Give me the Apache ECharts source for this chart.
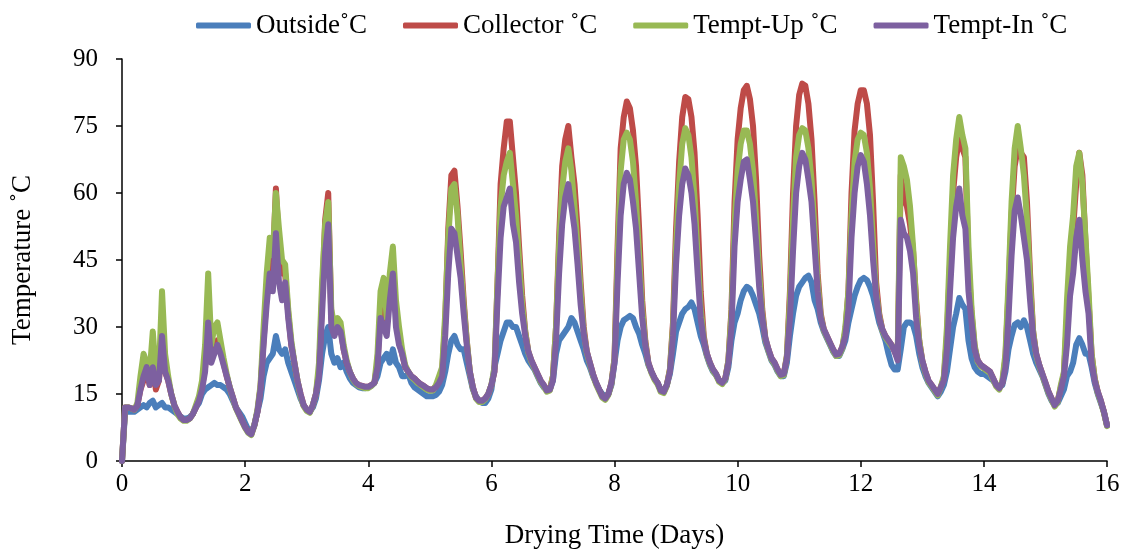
<!DOCTYPE html>
<html>
<head>
<meta charset="utf-8">
<script src="https://cdn.jsdelivr.net/npm/echarts@6/dist/echarts.min.js"></script>
<style>
html,body{margin:0;padding:0;background:#fff;}
#chart{width:1126px;height:549px;}
</style>
</head>
<body>
<div id="chart"></div>
<script>
// Sampling grid: one reading every 0.05 day, from day 0 to day 16
const STEP_DAYS = 0.05;
const X_TICKS = [0, 2, 4, 6, 8, 10, 12, 14, 16];
const Y_TICKS = [0, 15, 30, 45, 60, 75, 90];
const SERIES_NAMES = ['Outside˚C', 'Collector ˚C', 'Tempt-Up ˚C', 'Tempt-In ˚C'];

// Outside ˚C (rows = days 0..15, 20 readings per day, then day 16)
const outside = [
0, 11, 11, 11, 11, 11.5, 12, 12.5, 12, 13, 13.5, 12, 12.5, 13, 12, 12, 11.5, 11, 10.5, 10,
9.5, 9.5, 9.8, 10.5, 12, 13, 15, 16, 16.5, 17, 17.5, 17, 17, 16.5, 16, 15, 13.5, 12, 11, 10,
8.5, 7, 6.5, 8, 11, 14, 19, 22, 23, 24, 28, 25, 24, 25, 22, 20, 18, 16, 14, 12.5,
11.5, 11, 12, 14, 18, 24, 28, 30, 24, 22, 23, 21, 22, 20, 18.5, 17.5, 17, 16.5, 16.3, 16.3,
16.5, 16.8, 17.5, 19, 22, 23, 24, 22, 25, 22, 21, 19, 19, 19.5, 17.5, 16.5, 16, 15.5, 15, 14.5,
14.5, 14.5, 14.8, 15.5, 17, 20, 24, 27, 28, 26, 25, 25, 22, 19, 16, 14.5, 13.5, 13, 13, 14,
16, 21, 24, 27, 29, 31, 31, 30, 30, 28, 26, 24, 22.5, 21.5, 20.5, 19, 17.5, 16.5, 16, 16,
18, 24, 27, 28, 29, 30, 32, 31, 29, 27, 25, 22.5, 21, 19, 17.5, 16, 15, 14.5, 15, 17,
22, 27, 30, 31.5, 32, 32.5, 32, 30, 28.5, 26, 24, 21.5, 20, 18.5, 17.5, 16, 15.5, 17, 19.5, 24,
29, 31, 33, 34, 34.5, 35.5, 34, 31, 28, 26, 23.5, 21.5, 20, 19.2, 18, 17.5, 18, 21, 27, 31,
33, 36, 38, 39, 38.5, 37, 35, 33, 30, 26.5, 24.5, 22.5, 21.5, 20, 19, 19, 22, 28, 33, 37,
39, 40, 41, 41.5, 40, 36, 34, 31, 29, 27.5, 26, 24.5, 23.5, 23.5, 25, 27, 31, 34, 37, 39,
40.5, 41, 40.5, 39, 37, 34, 31, 29, 27, 24, 21.5, 20.5, 20.5, 25, 30, 31, 31, 30.5, 28, 24,
21, 19, 17.5, 16.5, 15.5, 14.5, 15.5, 17, 20, 25, 30, 33, 36.5, 35, 34, 27, 23, 21, 20, 19.5,
19.5, 19, 18.5, 18, 17, 16.5, 17, 20, 25, 28, 30.5, 31, 30, 31.5, 30, 27, 24, 22, 20.5, 19,
17, 15, 13.5, 12.5, 13, 14.5, 16, 19, 20, 22, 26, 27.5, 26, 24, 24, 21, 17.5, 15, 13, 11,
8
];

// Collector ˚C
const collector = [
0, 12, 12, 11.8, 11.5, 12.5, 16, 18, 20, 17, 22, 16, 18, 28, 20, 18, 15, 12.5, 11, 9.8,
9.2, 9.2, 9.5, 10.5, 12, 14, 16.5, 21, 32, 23, 25, 27, 25, 22, 19, 16.5, 14.3, 12, 10.5, 9,
7.6, 6.5, 6, 8, 11, 16.5, 27, 37, 46, 44, 61, 48, 42, 42, 33, 26, 22, 18, 15, 12.5,
11.5, 11, 12.5, 15, 20, 36, 54, 60, 32, 29, 31, 30, 25, 22, 20, 18.5, 17.5, 17, 16.8, 16.6,
16.6, 17, 17.5, 22, 34, 33, 30, 38, 44, 33, 27, 24, 21, 20, 19, 18.5, 17.8, 17.2, 16.8, 16.3,
16, 16, 16.8, 18, 20, 31, 52, 64, 65, 57, 47, 36, 27, 20, 16.5, 14.2, 13.5, 13.5, 14, 15,
17, 20, 40, 62, 70, 76, 76, 68, 60, 48, 37, 29, 24.5, 22.5, 21, 19.5, 18, 17, 15.8, 16,
19, 30, 50, 66, 72, 75, 68, 62, 52, 40, 30, 24.5, 22, 19.5, 17.5, 16, 14.5, 14, 15, 17.5,
23, 48, 70, 77, 80.5, 79, 74, 66, 52, 36, 27, 22, 20, 18.5, 17.5, 15.8, 15.5, 17, 20.5, 31,
52, 67, 77, 81.5, 81, 77, 69, 55, 38, 28, 24, 22, 20.5, 19.5, 18, 17.5, 18.5, 22.5, 34, 58,
72, 79, 83, 84, 81, 75, 63, 46, 34, 27.5, 25, 23, 22, 20.5, 19.3, 19.5, 23.5, 38, 60, 75,
82, 84.5, 84, 80, 72, 58, 42, 33, 29.5, 28, 26.5, 25, 23.8, 24, 25.5, 29, 38, 60, 74, 80,
83, 83, 80, 73, 58, 40, 33, 29.5, 28, 27, 26, 24.5, 23, 64, 59, 57, 53, 47, 36, 27,
22.5, 20, 18, 17, 16, 15, 16.5, 18.5, 28, 44, 60, 68, 72, 70, 68, 44, 33, 25.5, 22.5, 21.5,
21, 20.5, 20, 18.5, 17, 16.3, 17.5, 23, 38, 55, 66, 70, 69, 68, 58, 42, 29, 24, 21.5, 19.5,
17.5, 15.5, 14, 12.5, 13.5, 16.5, 19.5, 32, 44, 52, 62, 69, 64, 49, 36, 24, 18.5, 15.5, 13.5, 11,
8
];

// Tempt-Up ˚C
const temptUp = [
0, 12, 12, 11.8, 11.5, 13, 19, 24, 22, 20, 29, 20, 20, 38, 24, 19, 15, 12.5, 10.5, 9.5,
9, 9, 9.5, 10.5, 12.5, 14.5, 18, 26, 42, 26, 30, 31, 27, 23, 19.5, 16.5, 14, 11.8, 10.3, 8.8,
7.4, 6.3, 5.8, 8, 11.5, 17, 30, 42, 50, 46, 60, 52, 45, 44, 34, 27, 22, 18, 14.5, 12.3,
11.2, 10.8, 12.5, 15, 22, 40, 53, 58, 34, 30, 32, 31, 26, 22.5, 20, 18.3, 17.3, 16.8, 16.5, 16.3,
16.3, 16.8, 17.5, 24, 38, 41, 32, 42, 48, 36, 30, 25, 21.5, 20, 18.8, 18.2, 17.5, 17, 16.5, 16,
15.7, 15.8, 17, 19, 21, 33, 50, 61, 62, 55, 44, 35, 27, 20, 16.2, 14, 13.2, 13.2, 13.8, 15,
17, 21, 40, 57, 64, 67, 69, 62, 55, 45, 35, 29, 24.3, 22.2, 20.7, 19.2, 17.7, 16.7, 15.5, 15.8,
19, 30, 48, 61, 67, 70, 65, 57, 48, 38, 29, 24.3, 21.7, 19.2, 17.2, 15.7, 14.2, 13.7, 14.8, 17.3,
23, 45, 65, 72, 73.5, 72, 67, 58, 46, 34, 26.5, 21.7, 19.7, 18.2, 17.2, 15.5, 15.2, 16.8, 20.5, 30,
48, 62, 71, 74.5, 73, 68, 59, 46, 34, 27.5, 23.7, 21.7, 20.2, 19.2, 17.7, 17.2, 18.3, 22.5, 33, 53,
65, 71, 74, 74, 71, 65, 54, 42, 33, 27.2, 24.7, 22.7, 21.7, 20.2, 19, 19.2, 23.5, 36, 54, 68,
73, 74.5, 74, 70, 63, 52, 40, 32.5, 29.2, 27.7, 26.2, 24.7, 23.5, 23.7, 25.2, 30, 38, 55, 67, 72,
73.5, 73, 69, 61, 49, 38, 32.5, 29.2, 27.7, 26.7, 25.7, 25.5, 24, 68, 66, 63, 57, 48, 35, 27,
22.2, 19.7, 17.7, 16.7, 15.7, 14.7, 16.5, 19, 30, 48, 64, 72, 77, 73, 70, 48, 34, 26, 22.2, 21.2,
20.7, 20.2, 19.7, 18.2, 16.7, 16, 18, 24, 40, 58, 70, 75, 70, 64, 54, 40, 29, 23.7, 21.2, 19.2,
17.2, 15.2, 13.7, 12.2, 13.2, 17, 20, 36, 48, 55, 66, 69, 62, 50, 38, 24, 18.5, 15.2, 13.2, 10.8,
7.8
];

// Tempt-In ˚C
const temptIn = [
0, 12, 12, 11.8, 11.5, 12.5, 16, 19, 21, 17, 21, 17, 18, 28, 20, 18, 15, 12.5, 11, 9.8,
9.2, 9.2, 9.5, 10.5, 12, 13.5, 16, 20, 31, 22, 24, 26, 24, 21.5, 19, 16.5, 14.3, 12, 10.5, 9,
7.6, 6.5, 6, 8, 11, 16, 26, 35, 42, 38, 51, 40, 36, 40, 32, 26, 22, 18, 15, 12.5,
11.5, 11, 12.5, 15, 19, 33, 47, 53, 30, 28, 30, 29, 25, 22, 20, 18.5, 17.5, 17, 16.8, 16.6,
16.6, 17, 17.5, 21, 32, 30, 28, 36, 42, 30, 26, 24, 21, 20, 19, 18.5, 17.8, 17.2, 16.8, 16.3,
16, 16, 16.5, 17.5, 19, 28, 42, 52, 51, 46, 41, 33, 26, 20, 16.5, 14.2, 13.5, 13.5, 14, 15,
17, 20, 36, 50, 57, 59, 61, 53, 49, 40, 33, 28, 24.5, 22.5, 21, 19.5, 18, 17, 15.8, 16,
18, 27, 42, 53, 59, 62, 57, 52, 44, 35, 28.5, 24.5, 22, 19.5, 17.5, 16, 14.5, 14, 15, 17.5,
22, 40, 55, 62, 64.5, 63, 58, 52, 42, 32, 26, 22, 20, 18.5, 17.5, 15.8, 15.5, 17, 20, 28,
44, 55, 62, 65.5, 64, 60, 53, 42, 32, 27, 24, 22, 20.5, 19.5, 18, 17.5, 18.5, 22, 30, 48,
58, 63, 67, 67.5, 63, 58, 49, 39, 32, 27.5, 25, 23, 22, 20.5, 19.3, 19.5, 23, 32, 47, 60,
66, 69, 67.5, 63, 58, 48, 38, 32, 29.5, 28, 26.5, 25, 23.8, 24, 25.5, 28, 34, 50, 60, 66,
68.5, 67, 62, 55, 45, 37, 32, 29.5, 28, 27, 26, 24.5, 22.5, 54, 51, 50, 47, 42, 32, 26,
22.5, 20, 18, 17, 16, 15, 16.5, 18, 25, 38, 50, 57, 61, 55, 52, 38, 31, 25, 22.5, 21.5,
21, 20.5, 20, 18.5, 17, 16.3, 17.5, 21, 32, 46, 56, 59, 55, 50, 45, 36, 28, 24, 21.5, 19.5,
17.5, 15.5, 14, 12.5, 13.5, 16, 19, 26, 37, 42, 50, 54, 45, 38, 33, 22, 18, 15.5, 13.5, 11,
8
];

const COLORS = ['#4A7EBB', '#BE4B48', '#98B954', '#7D60A0'];
const FONT = '"Liberation Serif", "DejaVu Serif", serif';
const FS = 25;
const FS_TITLE = 27;

function pairs(values) {
  return values.map((v, i) => [Math.round(i * STEP_DAYS * 100) / 100, v]);
}

const seriesData = [outside, collector, temptUp, temptIn];

const chart = echarts.init(document.getElementById('chart'), null, {renderer: 'canvas'});
chart.setOption({
  animation: false,
  backgroundColor: '#fff',
  color: COLORS,
  legend: {
    top: 7,
    left: 191,
    icon: 'roundRect',
    itemWidth: 55,
    itemHeight: 6,
    itemGap: 36,
    textStyle: {fontFamily: FONT, fontSize: FS_TITLE, color: '#000'},
    data: SERIES_NAMES
  },
  grid: {left: 122, right: 19, top: 59, bottom: 88, containLabel: false, outerBoundsMode: 'none'},
  xAxis: {
    type: 'value',
    min: X_TICKS[0],
    max: X_TICKS[X_TICKS.length - 1],
    interval: 2,
    name: 'Drying Time (Days)',
    nameLocation: 'middle',
    nameGap: 61,
    nameTextStyle: {fontFamily: FONT, fontSize: FS_TITLE, color: '#000'},
    axisLine: {show: true, lineStyle: {color: '#000', width: 1.5}},
    axisTick: {show: true, inside: false, length: 6, lineStyle: {color: '#000', width: 1.5}},
    axisLabel: {fontFamily: FONT, fontSize: FS, color: '#000', margin: 11},
    splitLine: {show: false}
  },
  yAxis: {
    type: 'value',
    min: Y_TICKS[0],
    max: Y_TICKS[Y_TICKS.length - 1],
    interval: 15,
    name: 'Temperature ˚C',
    nameLocation: 'middle',
    nameGap: 86,
    nameRotate: 90,
    nameTextStyle: {fontFamily: FONT, fontSize: FS_TITLE, color: '#000'},
    axisLine: {show: true, lineStyle: {color: '#000', width: 1.5}},
    axisTick: {show: true, inside: false, length: 6, lineStyle: {color: '#000', width: 1.5}},
    axisLabel: {fontFamily: FONT, fontSize: FS, color: '#000', margin: 24},
    splitLine: {show: false}
  },
  series: SERIES_NAMES.map((name, k) => ({
    name: name,
    type: 'line',
    data: pairs(seriesData[k]),
    showSymbol: false,
    symbol: 'none',
    smooth: false,
    z: 2 + k,
    lineStyle: {width: 6, color: COLORS[k], cap: 'round', join: 'round'},
    itemStyle: {color: COLORS[k]}
  }))
});
</script>
</body>
</html>
